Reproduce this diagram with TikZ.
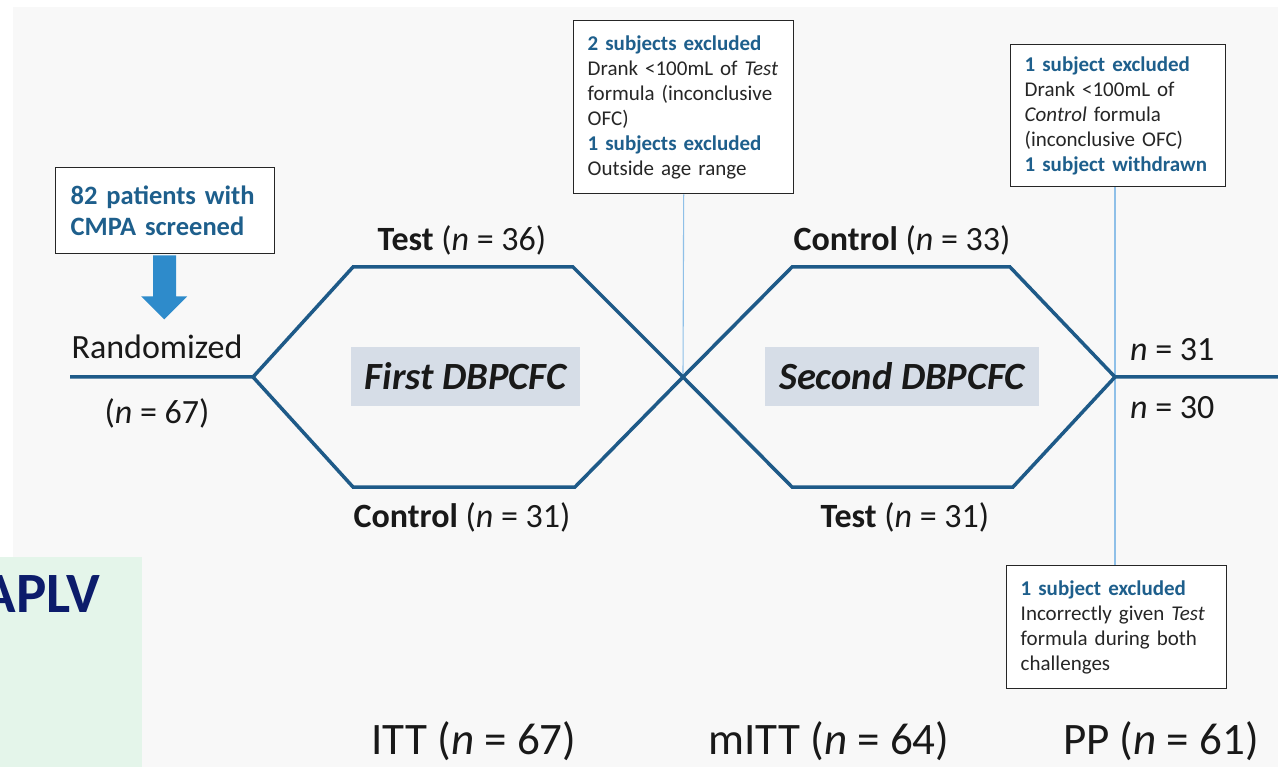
\documentclass[tikz,border=0pt]{standalone}
\usepackage{fontspec}
\setmainfont{Carlito}
\usetikzlibrary{calc,positioning}
\definecolor{flowblue}{HTML}{1E5A88}
\definecolor{headblue}{HTML}{1E5F8C}
\definecolor{arrowblue}{HTML}{2E8BCB}
\definecolor{guideblue}{HTML}{8FC0E8}
\definecolor{phasegray}{HTML}{D6DDE7}
\definecolor{pagegray}{HTML}{F8F8F8}
\definecolor{mintgreen}{HTML}{E4F5EA}
\definecolor{navyblue}{HTML}{0C1C6B}
\newcommand{\outhead}[1]{{\color{headblue}\bfseries #1}}

\begin{document}
\begin{tikzpicture}[x=1pt,y=-1pt,
  flow/.style={draw=flowblue,line width=3.5pt,line join=miter},
  guide/.style={draw=guideblue,line width=1.1pt},
  notebox/.style={draw=black!85,line width=1.4pt,fill=white,anchor=north west,align=left,
    inner xsep=14pt,inner ysep=0pt,text=black!85,font=\fontsize{21}{25}\selectfont},
  armlabel/.style={inner sep=0pt,text=black!90,font=\fontsize{34}{40}\selectfont},
  phasebox/.style={fill=phasegray,inner sep=0pt,text=black!90,font=\fontsize{38.5}{42}\selectfont\bfseries\itshape},
  setlabel/.style={inner sep=0pt,text=black!90,font=\fontsize{45}{50}\selectfont}]
\useasboundingbox (0,0) rectangle (1278,767);
\fill[white] (0,0) rectangle (1278,767);
\fill[pagegray] (13,7) rectangle (1278,767);
\fill[mintgreen] (0,557) rectangle (142,767);
\node[anchor=base east,inner sep=0pt,text=navyblue] (aplv) at (100,612)
  {\fontsize{57}{60}\selectfont\bfseries APLV};

\coordinate (start) at (70,377);
\coordinate (split) at (253,377);
\coordinate (cross) at (683,377);
\coordinate (merge) at (1115,377);
\coordinate (finish) at (1278,377);
\coordinate (up1l) at (353,267);
\coordinate (up1r) at (573,267);
\coordinate (lo1l) at (353,487);
\coordinate (lo1r) at (575,487);
\coordinate (up2l) at (792,267);
\coordinate (up2r) at (1010,267);
\coordinate (lo2l) at (792,487);
\coordinate (lo2r) at (1013,487);

\node[notebox,text width=192pt,minimum height=173pt] (firstout) at (573,20)
  {\outhead{2 subjects excluded}\\
   Drank <100mL of \textit{Test}\\
   formula (inconclusive\\
   OFC)\\
   \outhead{1 subjects excluded}\\
   Outside age range};
\node[notebox,text width=187pt,minimum height=142pt] (secondout) at (1010,44)
  {\outhead{1 subject excluded}\\
   Drank <100mL of\\
   \textit{Control} formula\\
   (inconclusive OFC)\\
   \outhead{1 subject withdrawn}};
\node[notebox,text width=192pt,minimum height=123pt] (lateout) at (1006,565)
  {\outhead{1 subject excluded}\\
   Incorrectly given \textit{Test}\\
   formula during both\\
   challenges};
\node[notebox,text width=189pt,inner xsep=15pt,minimum height=86pt,
  font=\fontsize{26.5}{31}\selectfont\bfseries,text=headblue] (screen) at (55,167)
  {82 patients with\\CMPA screened};
\fill[arrowblue] ($(screen.south)+(-12,1)$) -- ++(0,41) -- ++(-12,0)
  -- ($(screen.south)+(-1,65)$) -- ($(screen.south)+(22,42)$) -- ++(-11,0)
  -- ++(0,-41) -- cycle;

\draw[guide] (firstout.south) -- (cross);
\draw[guide] (secondout.south -| merge) -- (lateout.north -| merge);

\draw[flow] (start) -- (split) -- (up1l) -- (up1r) -- (cross) -- (up2l) -- (up2r) -- (merge) -- (finish);
\draw[flow] (split) -- (lo1l) -- (lo1r) -- (cross) -- (lo2l) -- (lo2r) -- (merge);

\node[armlabel] (rand) at (157,347) {Randomized};
\node[armlabel] (randn) at (157,413) {(\textit{n} = 67)};
\node[armlabel] (testfirst) at (462,240) {\textbf{Test} (\textit{n} = 36)};
\node[armlabel] (ctrlfirst) at (462,517) {\textbf{Control} (\textit{n} = 31)};
\node[armlabel] (ctrlsecond) at (902,240) {\textbf{Control} (\textit{n} = 33)};
\node[armlabel] (testsecond) at (905,517) {\textbf{Test} (\textit{n} = 31)};
\node[armlabel,anchor=west] (upn) at (1130,350) {\textit{n} = 31};
\node[armlabel,anchor=west] (lown) at (1130,408) {\textit{n} = 30};

\node[phasebox,minimum width=229pt,minimum height=59pt] (phaseone) at (465.5,376.5) {First DBPCFC};
\node[phasebox,minimum width=274pt,minimum height=59pt] (phasetwo) at (902,376.5) {Second DBPCFC};

\node[setlabel] (itt) at (474,741) {ITT (\textit{n} = 67)};
\node[setlabel] (mitt) at (829,741) {mITT (\textit{n} = 64)};
\node[setlabel] (pp) at (1161,741) {PP (\textit{n} = 61)};
\end{tikzpicture}
\end{document}
